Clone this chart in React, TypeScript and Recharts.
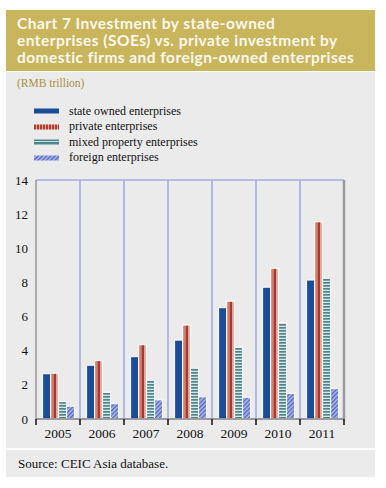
import React from 'react';
import { BarChart, Bar, XAxis, YAxis, CartesianGrid } from 'recharts';

const years = ['2005', '2006', '2007', '2008', '2009', '2010', '2011'];
const soe = [2.65, 3.15, 3.65, 4.62, 6.52, 7.72, 8.14];
const privateInv = [2.68, 3.42, 4.35, 5.5, 6.9, 8.83, 11.55];
const mixed = [1.02, 1.57, 2.3, 3.03, 4.2, 5.65, 8.27];
const foreign = [0.75, 0.9, 1.12, 1.3, 1.27, 1.5, 1.78];
const yTicks = [0, 2, 4, 6, 8, 10, 12, 14];

const seriesNames = [
  'state owned enterprises',
  'private enterprises',
  'mixed property enterprises',
  'foreign enterprises',
];

const titleLines = [
  'Chart 7 Investment by state-owned',
  'enterprises (SOEs) vs. private investment by',
  'domestic firms and foreign-owned enterprises',
];

const data = years.map((y, i) => ({
  year: y,
  soe: soe[i],
  priv: privateInv[i],
  mixed: mixed[i],
  foreign: foreign[i],
}));

const serif = '"Liberation Serif", "Times New Roman", serif';
const gridColor = '#a4acde';
const plotLeft = 36;
const plotRight = 344;
const catW = (plotRight - plotLeft) / years.length;

const Patterns = () => (
  <svg width={0} height={0} style={{ position: 'absolute' }}>
    <defs>
      <linearGradient id="privGrad" x1="0" x2="1" y1="0" y2="0">
        <stop offset="0" stopColor="#dc9484" />
        <stop offset="0.36" stopColor="#cf7565" />
        <stop offset="0.42" stopColor="#a9392f" />
        <stop offset="0.62" stopColor="#a9392f" />
        <stop offset="0.68" stopColor="#e0a294" />
        <stop offset="1" stopColor="#eec0b4" />
      </linearGradient>
      <pattern id="privLeg" width={3} height={6} patternUnits="userSpaceOnUse">
        <rect width={3} height={6} fill="#e4a898" />
        <rect width={2} height={6} fill="#b03d32" />
      </pattern>
      <pattern id="mixedPat" width={4} height={3} patternUnits="userSpaceOnUse">
        <rect width={4} height={3} fill="#d6e6e6" />
        <rect width={4} height={1.7} fill="#4d878c" />
      </pattern>
      <pattern id="mixedLeg" width={4} height={5} patternUnits="userSpaceOnUse">
        <rect width={4} height={5} fill="#4d878c" />
        <rect y={2} width={4} height={1} fill="#c8dede" />
      </pattern>
      <pattern
        id="foreignPat"
        width={3}
        height={3}
        patternUnits="userSpaceOnUse"
        patternTransform="rotate(45)"
      >
        <rect width={3} height={3} fill="#aab6ea" />
        <rect width={1.3} height={3} fill="#5566bf" />
      </pattern>
    </defs>
  </svg>
);

const legendFills = ['#1a4c9c', 'url(#privLeg)', 'url(#mixedLeg)', 'url(#foreignPat)'];

const XTick = (props: any) => {
  const { x, y, payload, index } = props;
  return (
    <g>
      <line x1={x - catW / 2} x2={x - catW / 2} y1={y} y2={y + 6} stroke="#111" strokeWidth={1.5} />
      {index === years.length - 1 && (
        <line x1={x + catW / 2} x2={x + catW / 2} y1={y} y2={y + 6} stroke="#111" strokeWidth={1.5} />
      )}
      <text x={x} y={y + 19} textAnchor="middle" fontFamily={serif} fontSize={13.5} fill="#111">
        {payload.value}
      </text>
    </g>
  );
};

export default function App() {
  return (
    <div style={{ position: 'absolute', left: 0, top: 0, width: 386, height: 488, background: '#fff' }}>
      <Patterns />
      <div
        style={{
          position: 'absolute',
          left: 6,
          top: 10,
          width: 369,
          height: 61,
          background: '#c9b55b',
          color: '#fbf8ee',
          fontFamily: 'Lato, sans-serif',
          fontWeight: 700,
          fontSize: 15.5,
          padding: '5px 0 0 11px',
          boxSizing: 'border-box',
          letterSpacing: 0.45,
        }}
      >
        {titleLines.map((t) => (
          <div key={t} style={{ height: 17, lineHeight: '17px', whiteSpace: 'nowrap' }}>
            {t}
          </div>
        ))}
      </div>
      <div style={{ position: 'absolute', left: 6, top: 72, width: 369, height: 376, background: '#ebebeb' }} />
      <div
        style={{
          position: 'absolute',
          left: 17,
          top: 77,
          fontFamily: serif,
          fontSize: 11.5,
          color: '#a8923e',
        }}
      >
        (RMB trillion)
      </div>
      <div style={{ position: 'absolute', left: 34, top: 103.5 }}>
        {seriesNames.map((name, i) => (
          <div key={name} style={{ display: 'flex', alignItems: 'center', height: 15.5 }}>
            <svg width={25} height={6} style={{ marginRight: 10 }}>
              <rect width={25} height={5} y={0.5} fill={legendFills[i]} />
            </svg>
            <span style={{ fontFamily: serif, fontSize: 12, color: '#111' }}>{name}</span>
          </div>
        ))}
      </div>
      <div style={{ position: 'absolute', left: 0, top: 165 }}>
        <BarChart
          width={386}
          height={282}
          data={data}
          margin={{ top: 15, right: 0, bottom: 0, left: 0 }}
          barCategoryGap="15%"
          barGap={0}
        >
          <CartesianGrid
            stroke={gridColor}
            strokeWidth={1.6}
            verticalCoordinatesGenerator={({ offset }: any) =>
              years.slice(1).map((_, i) => offset.left + (i + 1) * catW)
            }
          />
          <XAxis
            dataKey="year"
            tick={<XTick />}
            tickLine={false}
            tickSize={0}
            tickMargin={0}
            height={28}
            interval={0}
            axisLine={{ stroke: '#8a8a8a', strokeWidth: 1.5 }}
          />
          <YAxis
            yAxisId="left"
            orientation="left"
            width={36}
            domain={[0, 14]}
            ticks={yTicks}
            tickLine={false}
            axisLine={{ stroke: '#6e6e6e', strokeWidth: 1 }}
            tick={{ fontFamily: serif, fontSize: 13, fill: '#111' }}
            interval={0}
          />
          <YAxis
            yAxisId="right"
            orientation="right"
            width={42}
            domain={[0, 14]}
            ticks={yTicks}
            tickLine={false}
            axisLine={{ stroke: '#9a9a9a', strokeWidth: 2.5 }}
            tick={{ fontFamily: serif, fontSize: 13, fill: '#111', textAnchor: 'start' }}
            interval={0}
          />
          <Bar yAxisId="left" dataKey="soe" fill="#1a4c9c" stroke="#fff" strokeWidth={1} isAnimationActive={false} />
          <Bar yAxisId="left" dataKey="priv" fill="url(#privGrad)" stroke="#fff" strokeWidth={1} isAnimationActive={false} />
          <Bar yAxisId="left" dataKey="mixed" fill="url(#mixedPat)" stroke="#fff" strokeWidth={1} isAnimationActive={false} />
          <Bar yAxisId="left" dataKey="foreign" fill="url(#foreignPat)" stroke="#fff" strokeWidth={1} isAnimationActive={false} />
        </BarChart>
      </div>
      <div
        style={{
          position: 'absolute',
          left: 6,
          top: 450,
          width: 369,
          height: 27,
          background: '#ebebeb',
          fontFamily: serif,
          fontSize: 13,
          lineHeight: '27px',
          paddingLeft: 12,
          boxSizing: 'border-box',
          color: '#111',
        }}
      >
        Source: CEIC Asia database.
      </div>
    </div>
  );
}
